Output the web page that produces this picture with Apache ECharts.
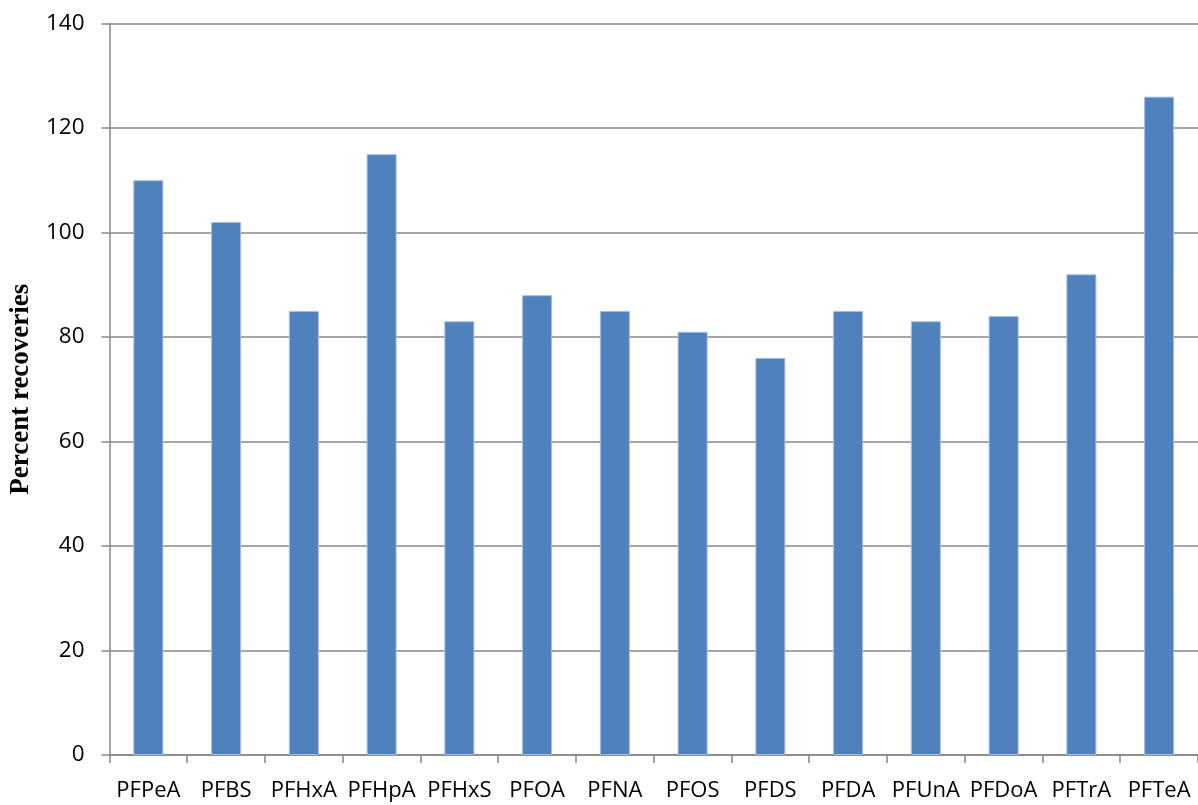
<!DOCTYPE html>
<html>
<head>
<meta charset="utf-8">
<script src="https://cdn.jsdelivr.net/npm/echarts@6/dist/echarts.min.js"></script>
<style>
  html, body { margin: 0; padding: 0; background: #ffffff; }
  #chart { width: 1198px; height: 805px; }
</style>
</head>
<body>
<div id="chart"></div>
<script>
// Compounds on the category axis
const compounds = ['PFPeA', 'PFBS', 'PFHxA', 'PFHpA', 'PFHxS', 'PFOA', 'PFNA',
  'PFOS', 'PFDS', 'PFDA', 'PFUnA', 'PFDoA', 'PFTrA', 'PFTeA'];

// Percent recovery for each compound
const recoveries = [110, 102, 85, 115, 83, 88, 85, 81, 76, 85, 83, 84, 92, 126];

// Value axis range
const yMin = 0;
const yMax = 140;
const yStep = 20;

const axisGray = '#878787';
const labelFont = '"Open Sans", "Liberation Sans", sans-serif';

const chart = echarts.init(document.getElementById('chart'), null, { renderer: 'canvas' });

chart.setOption({
  animation: false,
  backgroundColor: '#ffffff',
  grid: { left: 106.5, right: 0, top: 23.5, bottom: 50, containLabel: false },
  xAxis: {
    type: 'category',
    data: compounds,
    axisLine: { lineStyle: { color: axisGray, width: 1.5 } },
    axisTick: { show: true, length: 8, alignWithLabel: false, lineStyle: { color: axisGray, width: 1.5 } },
    axisLabel: { color: '#000', fontSize: 22, fontFamily: labelFont, margin: 25, interval: 0 }
  },
  yAxis: {
    type: 'value',
    min: yMin,
    max: yMax,
    interval: yStep,
    name: 'Percent recoveries',
    nameLocation: 'middle',
    nameGap: 74,
    nameTextStyle: {
      color: '#000',
      fontSize: 27,
      fontWeight: 'bold',
      fontFamily: '"Liberation Serif", "Times New Roman", serif'
    },
    axisLine: { show: true, lineStyle: { color: axisGray, width: 1.5 } },
    axisTick: { show: true, length: 8, lineStyle: { color: axisGray, width: 1.5 } },
    axisLabel: { color: '#000', fontSize: 22.5, fontFamily: labelFont, margin: 25 },
    splitLine: { show: true, lineStyle: { color: axisGray, width: 1.5 } }
  },
  series: [{
    type: 'bar',
    data: recoveries,
    barWidth: 30,
    itemStyle: { color: '#4f81bd', borderColor: '#a3bde0', borderWidth: 1 }
  }]
});
</script>
</body>
</html>
